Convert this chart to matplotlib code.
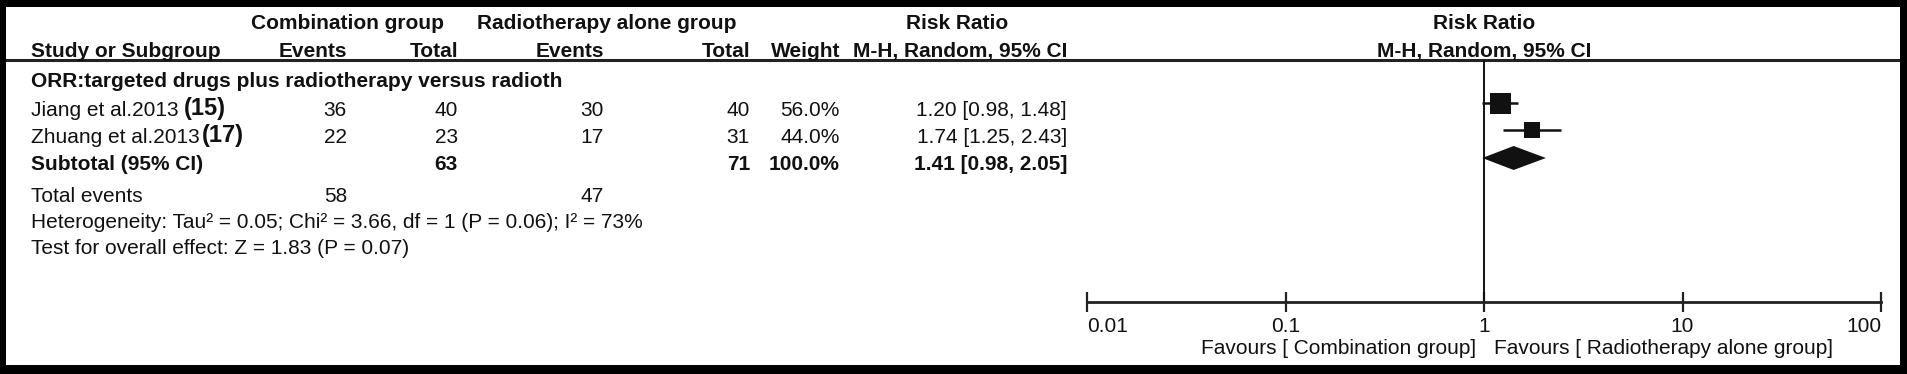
"""Forest plot: targeted drugs plus radiotherapy vs radiotherapy alone (ORR)."""
import matplotlib
matplotlib.use("Agg")
import matplotlib.pyplot as plt
import matplotlib.transforms as mtransforms

plt.rcParams["font.family"] = ["Liberation Sans", "DejaVu Sans"]

# ---- data
study_names = ["Jiang et al.2013", "Zhuang et al.2013"]
study_refs = ["(15)", "(17)"]
comb_events = [36, 22]
comb_total = [40, 23]
rad_events = [30, 17]
rad_total = [40, 31]
weights = [56.0, 44.0]
rr = [1.20, 1.74]
ci_low = [0.98, 1.25]
ci_high = [1.48, 2.43]

pooled_rr = 1.41
pooled_low = 0.98
pooled_high = 2.05
subtotal_comb = 63
subtotal_rad = 71
total_events = [58, 47]

group_title = "ORR:targeted drugs plus radiotherapy versus radioth"
heterogeneity = "Heterogeneity: Tau\u00b2 = 0.05; Chi\u00b2 = 3.66, df = 1 (P = 0.06); I\u00b2 = 73%"
overall = "Test for overall effect: Z = 1.83 (P = 0.07)"
axis_ticks = [0.01, 0.1, 1, 10, 100]
axis_ticklabels = ["0.01", "0.1", "1", "10", "100"]
favours_left = "Favours [ Combination group]"
favours_right = "Favours [ Radiotherapy alone group]"

# ---- layout (pixels of the 1907x374 output)
W, H = 1907, 374
FS = 15
X_LABEL = 31
X_CE, X_CT, X_RE, X_RT, X_W, X_CI = 347, 458, 604, 750, 840, 1067
REF_GAP = [5, 2]
Y_H1, Y_H2, Y_RULE = 29, 57, 60
Y_GROUP = 87
Y_STUDY0, STEP = 116, 27
Y_SUB = Y_STUDY0 + 2 * STEP
Y_TOT, Y_HET, Y_OVR = 202, 228, 254
FX0, FX1, FY_AX = 1087, 1881, 302
BOX_DY, DIAMOND_DY, DIAMOND_H = -13, -12, 12

fig = plt.figure(figsize=(W / 100, H / 100), dpi=100)
fig.patch.set_facecolor("black")

tab = fig.add_axes([6 / W, 1 - 365 / H, 1894 / W, 358 / H])
tab.set_xlim(6, 1900); tab.set_ylim(365, 7)
tab.set_facecolor("white")
for s in tab.spines.values():
    s.set_visible(False)
tab.set_xticks([]); tab.set_yticks([])

kw = dict(fontsize=FS, va="baseline", color="#111")
bold = dict(kw, weight="bold")

# header
tab.text(348, Y_H1, "Combination group", ha="center", **bold)
tab.text(607, Y_H1, "Radiotherapy alone group", ha="center", **bold)
tab.text(957, Y_H1, "Risk Ratio", ha="center", **bold)
tab.text(X_LABEL, Y_H2, "Study or Subgroup", ha="left", **bold)
for x, lab in [(X_CE, "Events"), (X_CT, "Total"), (X_RE, "Events"),
               (X_RT, "Total"), (X_W, "Weight"), (X_CI, "M-H, Random, 95% CI")]:
    tab.text(x, Y_H2, lab, ha="right", **bold)
tab.axhline(Y_RULE, color="#222", lw=2.2)

# studies
tab.text(X_LABEL, Y_GROUP, group_title, ha="left", **bold)
for i in range(len(study_names)):
    y = Y_STUDY0 + i * STEP
    t = tab.text(X_LABEL, y, study_names[i], ha="left", **kw)
    tab.annotate(study_refs[i], xy=(1, 0), xycoords=t, xytext=(REF_GAP[i], 0),
                 textcoords="offset pixels", ha="left", va="bottom",
                 fontsize=FS + 2, weight="bold", color="#111")
    tab.text(X_CE, y, str(comb_events[i]), ha="right", **kw)
    tab.text(X_CT, y, str(comb_total[i]), ha="right", **kw)
    tab.text(X_RE, y, str(rad_events[i]), ha="right", **kw)
    tab.text(X_RT, y, str(rad_total[i]), ha="right", **kw)
    tab.text(X_W, y, f"{weights[i]:.1f}%", ha="right", **kw)
    tab.text(X_CI, y, f"{rr[i]:.2f} [{ci_low[i]:.2f}, {ci_high[i]:.2f}]", ha="right", **kw)

tab.text(X_LABEL, Y_SUB, "Subtotal (95% CI)", ha="left", **bold)
tab.text(X_CT, Y_SUB, str(subtotal_comb), ha="right", **bold)
tab.text(X_RT, Y_SUB, str(subtotal_rad), ha="right", **bold)
tab.text(X_W, Y_SUB, f"{sum(weights):.1f}%", ha="right", **bold)
tab.text(X_CI, Y_SUB, f"{pooled_rr:.2f} [{pooled_low:.2f}, {pooled_high:.2f}]", ha="right", **bold)

tab.text(X_LABEL, Y_TOT, "Total events", ha="left", **kw)
tab.text(X_CE, Y_TOT, str(total_events[0]), ha="right", **kw)
tab.text(X_RE, Y_TOT, str(total_events[1]), ha="right", **kw)
tab.text(X_LABEL, Y_HET, heterogeneity, ha="left", **kw)
tab.text(X_LABEL, Y_OVR, overall, ha="left", **kw)

# forest panel: log x, y in the same pixel rows as the table
fx = fig.add_axes([FX0 / W, 1 - FY_AX / H, (FX1 - FX0) / W, (FY_AX - Y_RULE) / H])
fx.set_xscale("log")
fx.set_xlim(axis_ticks[0], axis_ticks[-1])
fx.set_ylim(FY_AX, Y_RULE)
fx.patch.set_visible(False)
for side in ["top", "left", "right"]:
    fx.spines[side].set_visible(False)
fx.spines["bottom"].set_linewidth(2)
fx.spines["bottom"].set_color("#222")
fx.set_yticks([])
fx.set_xticks(axis_ticks)
fx.set_xticklabels(axis_ticklabels, fontsize=FS, color="#111")
fx.minorticks_off()
fx.tick_params(axis="x", direction="inout", length=15, width=1.6, color="#222", pad=3)
labs = fx.get_xticklabels()
labs[0].set_ha("left"); labs[-1].set_ha("right")

fx.axvline(1, color="#111", lw=1.4)

for i in range(len(study_names)):
    y = Y_STUDY0 + i * STEP + BOX_DY
    fx.hlines(y, ci_low[i], ci_high[i], color="#111", lw=1.8)
    fx.plot(rr[i], y, marker="s", color="#111", ms=weights[i] * 0.27, mew=0)

yd = Y_SUB + DIAMOND_DY
fx.fill([pooled_low, pooled_rr, pooled_high, pooled_rr],
        [yd, yd - DIAMOND_H, yd, yd + DIAMOND_H], color="#111", lw=0)

fx.text(1, 354, favours_left, ha="right", va="baseline", fontsize=FS, color="#111",
        transform=mtransforms.offset_copy(fx.transData, fig, x=-8, units="dots"))
fx.text(1, 354, favours_right, ha="left", va="baseline", fontsize=FS, color="#111",
        transform=mtransforms.offset_copy(fx.transData, fig, x=10, units="dots"))

tab.text(1484, Y_H1, "Risk Ratio", ha="center", **bold)
tab.text(1484, Y_H2, "M-H, Random, 95% CI", ha="center", **bold)

fig.savefig("out.png", dpi=100, facecolor=fig.get_facecolor())
